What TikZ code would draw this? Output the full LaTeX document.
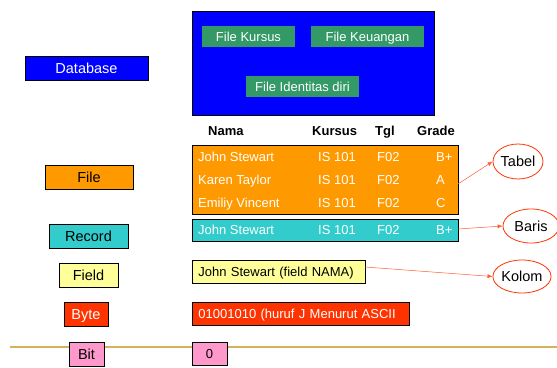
\documentclass[tikz,border=0pt]{standalone}
\usepackage{fontspec}
\setmainfont{Liberation Sans}
\usetikzlibrary{shapes.geometric,arrows.meta}
\definecolor{dbblue}{HTML}{0000FF}
\definecolor{fgreen}{HTML}{339966}
\definecolor{forange}{HTML}{FF9900}
\definecolor{rteal}{HTML}{33CCCC}
\definecolor{fyellow}{HTML}{FFFF99}
\definecolor{bred}{HTML}{FF3300}
\definecolor{bpink}{HTML}{FF99CC}
\definecolor{gold}{HTML}{D4B45A}
\definecolor{ered}{HTML}{FF3300}
\tikzset{
  fixl/.style={text height=13.4pt, text depth=3pt},
  fixs/.style={text height=12.3pt, text depth=3pt},
  box/.style={draw=black, line width=0.9pt, inner sep=0pt, fixl, font=\fontsize{14.5}{16}\selectfont},
  rbox/.style={draw=black, line width=0.9pt, inner sep=0pt, fixs, font=\fontsize{13}{15}\selectfont},
  gbox/.style={fill=fgreen, text=white, inner sep=0pt, fixs, font=\fontsize{13}{15}\selectfont},
  cell/.style={anchor=west, inner sep=0pt, text=white, fixs, font=\fontsize{13}{15}\selectfont},
  hdr/.style={anchor=west, inner sep=0pt, fixs, font=\bfseries\fontsize{13}{15}\selectfont},
  oval/.style={ellipse, draw=ered, line width=0.8pt, inner sep=0pt, fixl, font=\fontsize{14.5}{16}\selectfont},
  arr/.style={draw=ered!80, line width=0.5pt, -{Latex[length=5pt,width=4pt]}}
}
\begin{document}
\begin{tikzpicture}[x=1pt,y=-1pt]
\useasboundingbox (0,0) rectangle (557,367);
% gold line
\coordinate (l0) at (10,347);
\coordinate (l1) at (557,347);
\draw[gold, line width=1.2pt] (l0) -- (l1);
% left column
\node[box, fill=dbblue, text=white, minimum width=123pt, minimum height=24pt] (db) at (86.5,68) {Database};
\node[box, fill=forange, text=black, minimum width=88pt, minimum height=24pt] (fileL) at (89,177) {File};
\node[box, fill=rteal, text=black, minimum width=79pt, minimum height=24pt] (recL) at (88.5,236) {Record};
\node[box, fill=fyellow, text=black, minimum width=59pt, minimum height=24pt] (fieldL) at (88.5,275) {Field};
\node[box, fill=bred, text=white, minimum width=44pt, minimum height=24pt] (byteL) at (86,314) {Byte};
\node[box, fill=bpink, text=black, minimum width=35pt, minimum height=24pt] (bitL) at (86.5,354) {Bit};
% database block
\node[draw=black, line width=0.6pt, fill=dbblue, minimum width=242pt, minimum height=104pt, inner sep=0pt] (dbbig) at (313,63) {};
\node[gbox, minimum width=93pt, minimum height=21pt] (fk) at (248.5,36.5) {File Kursus};
\node[gbox, minimum width=113pt, minimum height=21pt] (fu) at (367.5,36.5) {File Keuangan};
\node[gbox, minimum width=113pt, minimum height=21pt] (fi) at (302.5,86.5) {File Identitas diri};
% header
\node[hdr] (hn) at (208,131) {Nama};
\node[hdr] (hk) at (312,131) {Kursus};
\node[hdr] (ht) at (375,131) {Tgl};
\node[hdr] (hg) at (417,131) {Grade};
% file table
\node[rbox, fill=forange, minimum width=266pt, minimum height=69pt] (tab) at (325,179.5) {};
\node[cell] (r1a) at (198,157) {John Stewart};
\node[cell] (r1b) at (318,157) {IS 101};
\node[cell] (r1c) at (377,157) {F02};
\node[cell] (r1d) at (436,157) {B+};
\node[cell] (r2a) at (198,180) {Karen Taylor};
\node[cell] (r2b) at (318,180) {IS 101};
\node[cell] (r2c) at (377,180) {F02};
\node[cell] (r2d) at (436,180) {A};
\node[cell] (r3a) at (198,203) {Emiliy Vincent};
\node[cell] (r3b) at (318,203) {IS 101};
\node[cell] (r3c) at (377,203) {F02};
\node[cell] (r3d) at (436,203) {C};
% record row
\node[rbox, fill=rteal, minimum width=266pt, minimum height=22pt] (rec) at (325,230) {};
\node[cell] (rra) at (198,230) {John Stewart};
\node[cell] (rrb) at (318,230) {IS 101};
\node[cell] (rrc) at (377,230) {F02};
\node[cell] (rrd) at (436,230) {B+};
% field, byte, bit
\node[rbox, fill=fyellow, text=black, minimum width=173pt, minimum height=23pt, anchor=west, align=left, text width=173pt] (fieldR) at (192,271.5) {\hspace*{6pt}John Stewart (field NAMA)};
\node[rbox, fill=bred, text=white, minimum width=217pt, minimum height=23pt, anchor=west, align=left, text width=217pt] (byteR) at (192,313.5) {\hspace*{6pt}01001010 (huruf J Menurut ASCII};
\node[rbox, fill=bpink, text=black, minimum width=35pt, minimum height=23pt] (bitR) at (209.5,353.5) {0};
% ovals
\node[oval, minimum width=50pt, minimum height=35pt] (tabel) at (518,161.5) {Tabel};
\node[oval, minimum width=56pt, minimum height=34pt] (baris) at (531,226) {Baris};
\node[oval, minimum width=58pt, minimum height=33pt] (kolom) at (522,276.5) {Kolom};
% arrows
\coordinate (a1) at (458,184);
\coordinate (a2) at (458,229);
\coordinate (a3) at (365,267);
\draw[arr] (a1) -- (tabel.west);
\draw[arr] (a2) -- (baris.west);
\draw[arr] (a3) -- (kolom.west);
\end{tikzpicture}
\end{document}
